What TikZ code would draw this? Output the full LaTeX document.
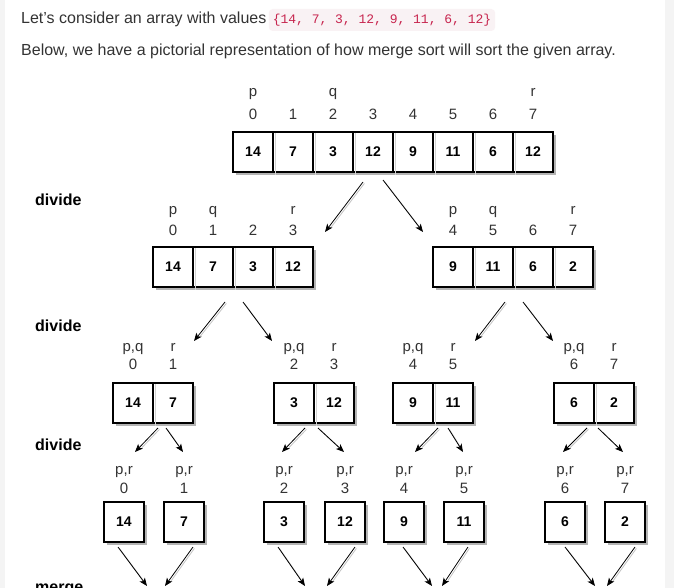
\documentclass[tikz,border=0pt]{standalone}
\usepackage{fontspec}
\setmainfont{Liberation Sans}
\newfontfamily\codefont{Liberation Mono}
\usetikzlibrary{arrows.meta}
\definecolor{txt}{HTML}{333333}
\definecolor{band}{HTML}{F4F4F4}
\definecolor{codefg}{HTML}{C7254E}
\definecolor{codebg}{HTML}{F9F2F4}
\definecolor{shadowc}{HTML}{B4B4B4}
\definecolor{divc}{HTML}{D2D2D2}
\definecolor{arrsh}{HTML}{C4C4C4}
\begin{document}
\begin{tikzpicture}[x=1pt,y=-1pt,
  cell/.style={draw=black, line width=1.2pt, fill=white, minimum width=40pt, minimum height=40pt, inner sep=0pt, font=\fontsize{14}{16}\selectfont\bfseries},
  lbl/.style={anchor=base, inner sep=0pt, text=txt, font=\fontsize{15}{18}\selectfont},
  phase/.style={anchor=base west, inner sep=0pt, font=\fontsize{16}{19}\selectfont\bfseries},
  para/.style={anchor=base west, inner sep=0pt, text=txt, font=\fontsize{16}{19}\selectfont},
  codebox/.style={anchor=base west, fill=codebg, rounded corners=4pt, text=codefg, font=\codefont\fontsize{13}{15}\selectfont, inner xsep=4pt, inner ysep=4pt, text height=11pt, text depth=3pt},
  shade/.style={fill=shadowc},
  divline/.style={draw=divc, line width=0.9pt},
  arr/.style={-{Stealth[length=8pt,width=6.5pt,inset=2pt]}, line width=0.8pt,
    preaction={draw=arrsh, line width=0.8pt, -, shorten >=8pt, transform canvas={shift={(1.4pt,-1.4pt)}}}}
]
\useasboundingbox (0,0) rectangle (674,588);
\begin{scope}
\clip (0,0) rectangle (674,588);
\fill[white] (0,0) rectangle (674,588);
\fill[band] (0,0) rectangle (5,588);
\fill[band] (665,0) rectangle (674,588);

% paragraph text
\node[para] (t1) at (21,24) {Let's consider an array with values};
\node[codebox] (code) at ([xshift=2pt]t1.base east) {\{14, 7, 3, 12, 9, 11, 6, 12\}};
\node[para] (t2) at (21,56) {Below, we have a pictorial representation of how merge sort will sort the given array.};

% phase labels
\node[phase] (dv1) at (35,205) {divide};
\node[phase] (dv2) at (35,331) {divide};
\node[phase] (dv3) at (35,450) {divide};
\node[phase] (mg) at (35,592) {merge};

% ---------- row 1 ----------
\fill[shade] (236,135) rectangle (556,175);
\foreach \v [count=\i from 0] in {14,7,3,12,9,11,6,12}
  \node[cell] (a\i) at ({253+40*\i},152) {\v};
\foreach \i in {1,...,7} \draw[divline] ({233+40*\i+2},133) -- ({233+40*\i+2},175);
\foreach \i in {0,...,7} \node[lbl] (ai\i) at ({253+40*\i},120) {\i};
\node[lbl] (ap) at (253,97) {p};
\node[lbl] (aq) at (333,97) {q};
\node[lbl] (ar) at (533,97) {r};

% ---------- row 2 ----------
\fill[shade] (156,250) rectangle (316,290);
\fill[shade] (436,250) rectangle (596,290);
\foreach \v [count=\i from 0] in {14,7,3,12}
  \node[cell] (b\i) at ({173+40*\i},267) {\v};
\foreach \v [count=\i from 0] in {9,11,6,2}
  \node[cell] (c\i) at ({453+40*\i},267) {\v};
\foreach \i in {1,2,3} {
  \draw[divline] ({153+40*\i+2},248) -- ({153+40*\i+2},290);
  \draw[divline] ({433+40*\i+2},248) -- ({433+40*\i+2},290);
}
\foreach \i [count=\k from 0] in {0,1,2,3} \node[lbl] (bi\k) at ({173+40*\k},235) {\i};
\foreach \i [count=\k from 0] in {4,5,6,7} \node[lbl] (ci\k) at ({453+40*\k},235) {\i};
\node[lbl] (bp) at (173,214) {p};
\node[lbl] (bq) at (213,214) {q};
\node[lbl] (br) at (293,214) {r};
\node[lbl] (cp) at (453,214) {p};
\node[lbl] (cq) at (493,214) {q};
\node[lbl] (cr) at (573,214) {r};

% ---------- row 3 ----------
\foreach \nm/\x/\va/\vb/\ia/\ib in {d/133/14/7/0/1, e/294/3/12/2/3, f/413/9/11/4/5, g/574/6/2/6/7} {
  \fill[shade] ({\x-20+3},386) rectangle ({\x+60+3},426);
  \node[cell] (\nm0) at (\x,403) {\va};
  \node[cell] (\nm1) at ({\x+40},403) {\vb};
  \draw[divline] ({\x+22},384) -- ({\x+22},426);
  \node[lbl] (\nm pq) at (\x,351) {p,q};
  \node[lbl] (\nm r) at ({\x+40},351) {r};
  \node[lbl] (\nm i0) at (\x,369) {\ia};
  \node[lbl] (\nm i1) at ({\x+40},369) {\ib};
}

% ---------- row 4 ----------
\foreach \x/\v/\i in {124/14/0, 184/7/1, 284/3/2, 345/12/3, 404/9/4, 464/11/5, 565/6/6, 625/2/7} {
  \fill[shade] ({\x-20+3},505) rectangle ({\x+20+3},545);
  \node[cell] (h\i) at (\x,522) {\v};
  \node[lbl] (hpr\i) at (\x,474) {p,r};
  \node[lbl] (hi\i) at (\x,493) {\i};
}

% ---------- arrows ----------
\foreach \n/\sx/\sy/\tx/\ty in {
  1/363/182/325/232, 2/383/180/423/232,
  3/225/302/194/341, 4/243/302/272/341, 5/505/302/475/341, 6/523/302/553/341,
  7/158/428/135/452, 8/166/428/183/452, 9/305/428/282/452, 10/318/428/344/452,
  11/438/428/415/452, 12/448/428/463/452, 13/587/428/563/452, 14/598/428/623/452,
  15/118/547/147/586, 16/193/547/165/586, 17/278/547/305/586, 18/355/547/327/586,
  19/403/547/432/586, 20/468/547/442/586, 21/565/547/595/586, 22/635/547/607/586} {
  \coordinate (s\n) at (\sx,\sy);
  \coordinate (e\n) at (\tx,\ty);
  \draw[arr] (s\n) -- (e\n);
}
\end{scope}
\end{tikzpicture}
\end{document}
